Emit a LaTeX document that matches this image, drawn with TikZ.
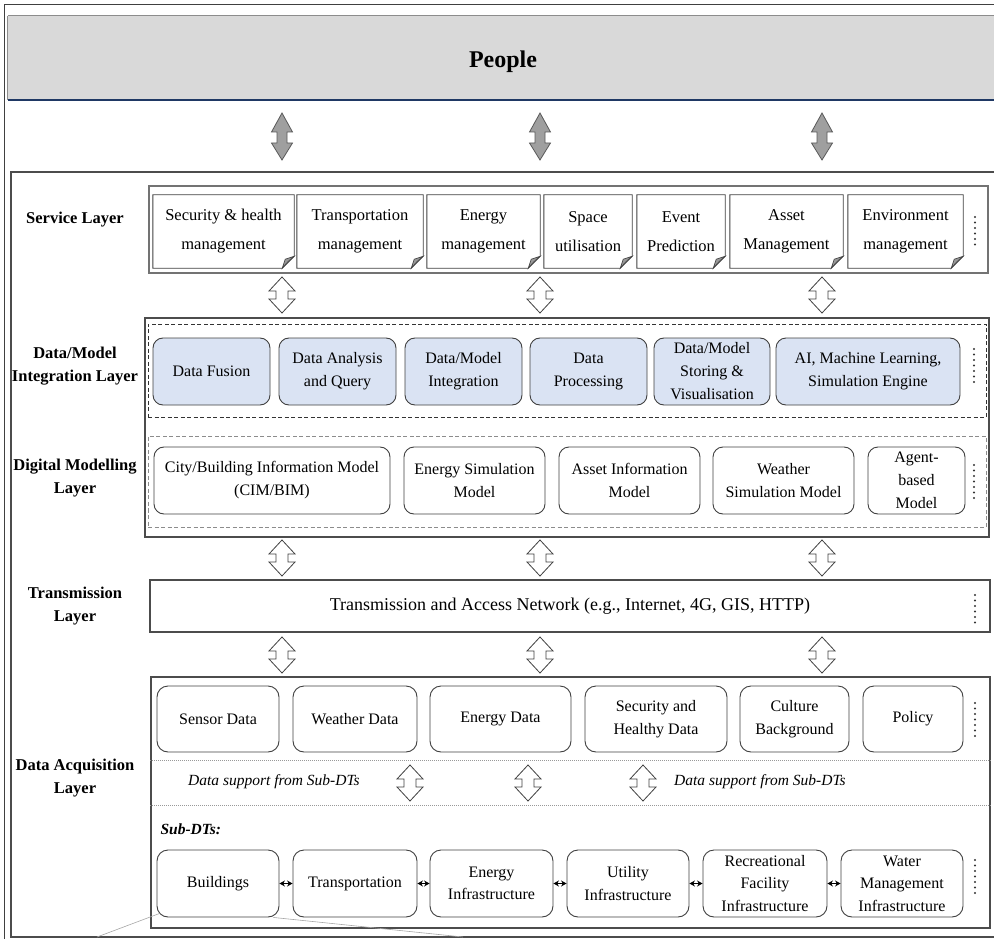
\documentclass[tikz,border=0pt]{standalone}
\usepackage{fontspec}
\setmainfont{Liberation Serif}
\usetikzlibrary{arrows.meta}

\definecolor{peoplegray}{HTML}{D9D9D9}
\definecolor{navyline}{HTML}{1F3864}
\definecolor{intblue}{HTML}{DAE3F3}
\definecolor{arrgray}{HTML}{9F9F9F}

% box from its corners: style, name, x1, y1, x2, y2, text
\newcommand\placebox[7]{%
  \pgfmathsetmacro\pbcx{(#3+#5)/2}%
  \pgfmathsetmacro\pbcy{(#4+#6)/2}%
  \pgfmathsetmacro\pbw{#5-#3}%
  \pgfmathsetmacro\pbh{#6-#4}%
  \node[#1, minimum width=\pbw pt, minimum height=\pbh pt] (#2) at (\pbcx,\pbcy) {#7};%
}

\tikzset{
  layerlbl/.style={font=\fontsize{16.5}{23}\selectfont\bfseries, align=center},
  plainbox/.style={inner sep=0pt, align=center},
  svcnote/.style={plainbox, font=\fontsize{16.5}{29}\selectfont},
  notebd/.style={draw=black!75, line width=0.9pt},
  intbox/.style={plainbox, draw=black!75, line width=0.9pt, rounded corners=10pt, fill=intblue, font=\fontsize{16}{23}\selectfont},
  mdlbox/.style={plainbox, draw=black!75, line width=0.9pt, rounded corners=10pt, fill=white, font=\fontsize{16}{23}\selectfont},
  acqbox/.style={plainbox, draw=black!75, line width=0.9pt, rounded corners=11pt, fill=white, font=\fontsize{16}{22.5}\selectfont},
  container/.style={plainbox, draw=black!70, line width=1.1pt},
  dotcol/.style={line width=2.2pt, line cap=round, dash pattern=on 0pt off 5.5pt, black!80},
  linkarrow/.style={{Stealth[length=5.5pt,width=6pt]}-{Stealth[length=5.5pt,width=6pt]}, line width=1.5pt},
  openarr/.pic={\draw[black!75, line width=0.8pt, fill=white]
      (0,-18) -- (13,-4) -- (6,-4) -- (6,4) -- (13,4) -- (0,18)
      -- (-13,4) -- (-6,4) -- (-6,-4) -- (-13,-4) -- cycle;},
  grayarr/.pic={\draw[black!65, line width=0.8pt, fill=arrgray]
      (0,-23.5) -- (10.5,-4.5) -- (5,-4.5) -- (5,6.5) -- (10.5,6.5) -- (0,23.5)
      -- (-10.5,6.5) -- (-5,6.5) -- (-5,-4.5) -- (-10.5,-4.5) -- cycle;}
}

\begin{document}
\begin{tikzpicture}[x=1pt,y=-1pt]
\useasboundingbox (0,0) rectangle (994,939);

% outer frame and main container
\draw[black!75, line width=0.8pt] (4,939) -- (4,4) -- (994,4);
\draw[black!70, line width=1.1pt] (994,172) -- (11,172) -- (11,937) -- (994,937);

% people band
\placebox{plainbox, fill=peoplegray}{people}{8}{16}{994}{100}{}
\node[font=\fontsize{24}{28}\selectfont\bfseries] (peoplelbl) at (503,62) {People};
\draw[black!45, line width=1pt] (people.north west) -- (people.north east);
\draw[navyline, line width=1.5pt] (people.south west) -- (people.south east);
\draw[black!45, line width=1pt] (people.north west) -- (people.south west);

\foreach \x in {282,540,822} \pic at (\x,136.5) {grayarr};

% ---------------- service layer ----------------
\node[layerlbl] (lsvc) at (75,220) {Service Layer};
\placebox{container, draw=black!55, line width=1.3pt}{svc}{149}{186}{988}{273}{}
\placebox{svcnote}{s1}{153}{195}{294}{268}{Security \& health\\management}
\placebox{svcnote}{s2}{297}{195}{423}{268}{Transportation\\management}
\placebox{svcnote}{s3}{427}{195}{540}{268}{Energy\\management}
\placebox{svcnote}{s4}{544}{195}{632}{268}{Space\\utilisation}
\placebox{svcnote}{s5}{637}{195}{725}{268}{Event\\Prediction}
\placebox{svcnote}{s6}{730}{195}{843}{268}{Asset\\Management}
\placebox{svcnote}{s7}{848}{195}{963}{268}{Environment\\management}
\foreach \n in {s1,s2,s3,s4,s5,s6,s7}{
  \draw[notebd] (\n.north west) -- (\n.north east) -- ([yshift=12pt]\n.south east)
     -- ([xshift=-12pt]\n.south east) -- (\n.south west) -- cycle;
  \draw[black!75, line width=0.6pt, fill=black!40] ([yshift=12pt]\n.south east)
     .. controls ([xshift=-6pt,yshift=7pt]\n.south east) .. ([xshift=-12pt]\n.south east)
     -- ([xshift=-9pt,yshift=9pt]\n.south east) -- cycle;
}
\draw[dotcol] (975,217) -- (975,246);

\foreach \x in {282,540,822} \pic at (\x,295) {openarr};

% ---------------- integration and modelling ----------------
\node[layerlbl] (lint) at (75,366) {Data/Model\\Integration Layer};
\node[layerlbl] (lmdl) at (75,478) {Digital Modelling\\Layer};
\placebox{container}{core}{145}{318}{989}{537}{}
\placebox{plainbox, draw=black!80, line width=0.8pt, dash pattern=on 4pt off 2.5pt}{intzone}{148}{324}{986}{417}{}
\placebox{plainbox, draw=black!45, line width=0.8pt, dash pattern=on 4pt off 2.5pt}{mdlzone}{148}{436}{986}{527}{}

\placebox{intbox}{i1}{153}{338}{270}{405}{Data Fusion}
\placebox{intbox}{i2}{279}{338}{396}{405}{Data Analysis\\and Query}
\placebox{intbox}{i3}{405}{338}{522}{405}{Data/Model\\Integration}
\placebox{intbox}{i4}{530}{338}{647}{405}{Data\\Processing}
\placebox{intbox}{i5}{654}{338}{770}{405}{Data/Model\\Storing \&\\Visualisation}
\placebox{intbox}{i6}{776}{338}{960}{405}{AI, Machine Learning,\\Simulation Engine}
\draw[dotcol] (974,349) -- (974,383);

\placebox{mdlbox}{m1}{154}{447}{390}{514}{City/Building Information Model\\(CIM/BIM)}
\placebox{mdlbox}{m2}{404}{447}{545}{514}{Energy Simulation\\Model}
\placebox{mdlbox}{m3}{559}{447}{700}{514}{Asset Information\\Model}
\placebox{mdlbox}{m4}{713}{447}{854}{514}{Weather\\Simulation Model}
\placebox{mdlbox}{m5}{868}{447}{965}{514}{Agent-\\based\\Model}
\draw[dotcol] (974,465) -- (974,498);

\foreach \x in {282,540,822} \pic at (\x,558) {openarr};

% ---------------- transmission layer ----------------
\node[layerlbl] (ltr) at (75,606) {Transmission\\Layer};
\placebox{container, font=\fontsize{18}{22}\selectfont}{trans}{150}{580}{990}{632}{Transmission and Access Network (e.g., Internet, 4G, GIS, HTTP)}
\draw[dotcol] (975,595) -- (975,623);

\foreach \x in {282,540,822} \pic at (\x,655) {openarr};

% ---------------- data acquisition layer ----------------
\node[layerlbl] (lacq) at (75,778) {Data Acquisition\\Layer};
\placebox{container}{acq}{151}{677}{990}{928}{}

\placebox{acqbox}{d1}{157}{686}{279}{752}{Sensor Data}
\placebox{acqbox}{d2}{293}{686}{417}{752}{Weather Data}
\placebox{acqbox}{d3}{430}{686}{571}{752}{Energy Data}
\placebox{acqbox}{d4}{585}{686}{727}{752}{Security and\\Healthy Data}
\placebox{acqbox}{d5}{740}{686}{849}{752}{Culture\\Background}
\placebox{acqbox}{d6}{863}{686}{963}{752}{Policy}
\draw[dotcol] (975,703) -- (975,738);

\draw[black!40, line width=0.7pt, dash pattern=on 1pt off 1pt] (acq.west |- 0,760) -- (acq.east |- 0,760);
\draw[black!40, line width=0.7pt, dash pattern=on 1pt off 1pt] (acq.west |- 0,805) -- (acq.east |- 0,805);

\node[font=\fontsize{15.5}{19}\selectfont\itshape] (sup1) at (274,782) {Data support from Sub-DTs};
\node[font=\fontsize{15.5}{19}\selectfont\itshape] (sup2) at (760,782) {Data support from Sub-DTs};
\foreach \x in {410,528,643} \pic at (\x,783) {openarr};

\node[anchor=west, font=\fontsize{15.5}{19}\selectfont\bfseries\itshape] (subdt) at (157,829) {Sub-DTs:};

\placebox{acqbox}{b1}{157}{850}{279}{917}{Buildings}
\placebox{acqbox}{b2}{293}{850}{417}{917}{Transportation}
\placebox{acqbox}{b3}{430}{850}{553}{917}{Energy\\Infrastructure}
\placebox{acqbox}{b4}{567}{850}{689}{917}{Utility\\Infrastructure}
\placebox{acqbox}{b5}{703}{850}{827}{917}{Recreational\\Facility\\Infrastructure}
\placebox{acqbox}{b6}{841}{850}{963}{917}{Water\\Management\\Infrastructure}
\draw[dotcol] (975,860) -- (975,894);

\draw[linkarrow] (b1) -- (b2);
\draw[linkarrow] (b2) -- (b3);
\draw[linkarrow] (b3) -- (b4);
\draw[linkarrow] (b4) -- (b5);
\draw[linkarrow] (b5) -- (b6);

% callout lines leaving the buildings box
\coordinate (callA) at (97,937);
\coordinate (callB) at (463,937);
\draw[black!35, line width=0.6pt] ([xshift=3pt,yshift=4pt]b1.south west) -- (callA);
\draw[black!35, line width=0.6pt] ([xshift=-6pt]b1.south east) -- (callB);
\end{tikzpicture}
\end{document}
